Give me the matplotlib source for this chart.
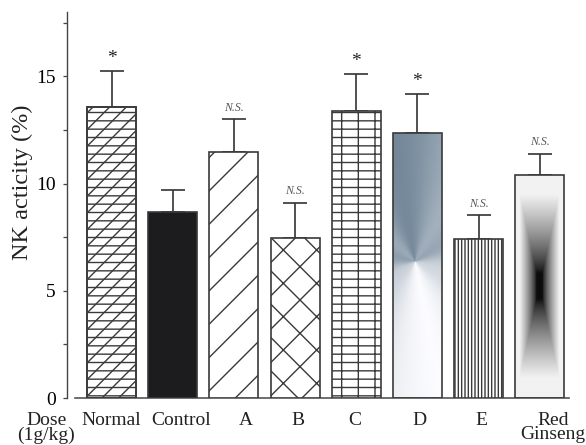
import numpy as np
import matplotlib
matplotlib.use("Agg")
import matplotlib.pyplot as plt

# ---- data ----
categories = ["Normal", "Control", "A", "B", "C", "D", "E", "Red\nGinseng"]
values = [13.57, 8.68, 11.46, 7.46, 13.38, 12.36, 7.40, 10.40]
errors = [1.66, 1.04, 1.54, 1.64, 1.72, 1.81, 1.12, 0.98]
marks = ["*", "", "N.S.", "N.S.", "*", "*", "N.S.", "N.S."]
yticks = [0, 5, 10, 15]

# ---- style ----
hatches = ["//", None, "/", "x", "--|", None, "|||||", None]
overlay_hatches = ["--", None, None, None, None, None, None, None]
faces = ["white", "#1c1c1e", "white", "white", "white", "none", "white", "none"]
label_dx = [0.0, 0.13, 0.2, 0.05, -0.03, 0.04, 0.04, 0.22]

plt.rcParams["font.family"] = ["Liberation Serif", "DejaVu Serif"]
plt.rcParams["hatch.linewidth"] = 1.0

fig = plt.figure(figsize=(5.86, 4.45), dpi=100)
ax = fig.add_axes([0.1143, 0.1056, 0.8757, 0.8674])

x = np.arange(len(categories))
width = 0.8
edge = "#3a3a3a"
bars = ax.bar(x, values, width=width, color=faces, edgecolor=edge,
              linewidth=1.2, zorder=3)
for b, h in zip(bars, hatches):
    if h:
        b.set_hatch(h)

# second hatch layer (e.g. horizontal lines over the diagonal ones)
for xi, v, oh in zip(x, values, overlay_hatches):
    if oh:
        ax.bar(xi, v, width=width, color="none", edgecolor=edge, hatch=oh,
               linewidth=1.2, zorder=3.1)

ax.errorbar(x, values, yerr=[np.zeros(len(values)), errors], fmt="none",
            ecolor="#333333", elinewidth=1.2, capsize=8.5, capthick=1.2, zorder=2)

ax.set_xlim(-0.728, 7.66)
ax.set_ylim(0, 18)

# pixel scale factors for gradients
px_x = 61.14
px_y = 21.49

# D: conic gradient
bD = bars[5]
x0, x1 = bD.get_x(), bD.get_x() + bD.get_width()
h = bD.get_height()
ny, nx = 300, 80
gx, gy = np.meshgrid(np.linspace(x0, x1, nx), np.linspace(h, 0, ny))
cx, cy = x[5] - 0.04, 6.34
dx = (gx - cx) * px_x
dy = (gy - cy) * px_y
th = np.arctan2(dx, dy)
d = 0.5 + 0.5 * np.cos(th + 0.2)
d = d ** 0.6
d = d * (0.88 + 0.12 * np.cos(5 * th + 0.8))
d = d * (1.0 - 0.08 * (gx - x0) / (x1 - x0))
d = np.clip(d, 0, 1)
base = np.array([0.45, 0.53, 0.60])
white = np.array([0.99, 0.99, 1.0])
img = white[None, None, :] * (1 - d[..., None]) + base[None, None, :] * d[..., None]
im = ax.imshow(img, extent=(x0, x1, 0, h), aspect="auto", zorder=2.5,
               interpolation="bilinear")
im.set_clip_path(bD)

# Red Ginseng: rectangular gradient
bR = bars[7]
x0, x1 = bR.get_x(), bR.get_x() + bR.get_width()
h = bR.get_height()
gx, gy = np.meshgrid(np.linspace(-1, 1, nx), np.linspace(-1, 1, ny))
t = np.maximum(np.abs(gx), np.abs(gy))
s = np.clip((t - 0.12) / 0.7, 0, 1) ** 0.75
g = 0.05 + 0.9 * s
img2 = np.dstack([g, g, g])
im2 = ax.imshow(img2, extent=(x0, x1, 0, h), aspect="auto", zorder=2.5,
                interpolation="bilinear")
im2.set_clip_path(bR)
ax.set_xlim(-0.728, 7.66)
ax.set_ylim(0, 18)

# annotations
for xi, v, e, m in zip(x, values, errors, marks):
    if not m:
        continue
    if m == "*":
        ax.annotate(m, (xi, v + e), xytext=(0, 3), textcoords="offset points",
                    ha="center", va="bottom", fontsize=14, color="#222222")
    else:
        ax.annotate(m, (xi, v + e), xytext=(0, 4), textcoords="offset points",
                    ha="center", va="bottom", fontsize=8.5, style="italic",
                    color="#555555")

# axes styling
for sp in ["top", "right"]:
    ax.spines[sp].set_visible(False)
ax.spines["left"].set_color("#444444")
ax.spines["bottom"].set_color("#555555")
ax.spines["left"].set_linewidth(1.0)
ax.spines["bottom"].set_linewidth(1.2)
ax.spines["bottom"].set_bounds(-0.6, 7.48)

ax.set_yticks(yticks)
ax.set_yticks(np.arange(0, 18.1, 2.5), minor=True)
ax.tick_params(axis="y", which="both", direction="out", length=3, width=0.9,
               color="#444444", labelsize=14, pad=5)
ax.tick_params(axis="x", length=0)
ax.set_xticks([])

for xi, lab, off in zip(x, categories, label_dx):
    ax.text(xi + off, -0.65, lab, ha="center", va="top", fontsize=14,
            linespacing=0.8, color="#222222")
ax.text(-1.07, -0.65, "Dose\n(1g/kg)", ha="center", va="top", fontsize=14,
        linespacing=0.8, color="#222222", clip_on=False)

ax.set_ylabel("NK acticity (%)", fontsize=17.5, color="#222222")
ax.yaxis.set_label_coords(-0.066, 0.56)

fig.savefig("out.png", dpi=100)
